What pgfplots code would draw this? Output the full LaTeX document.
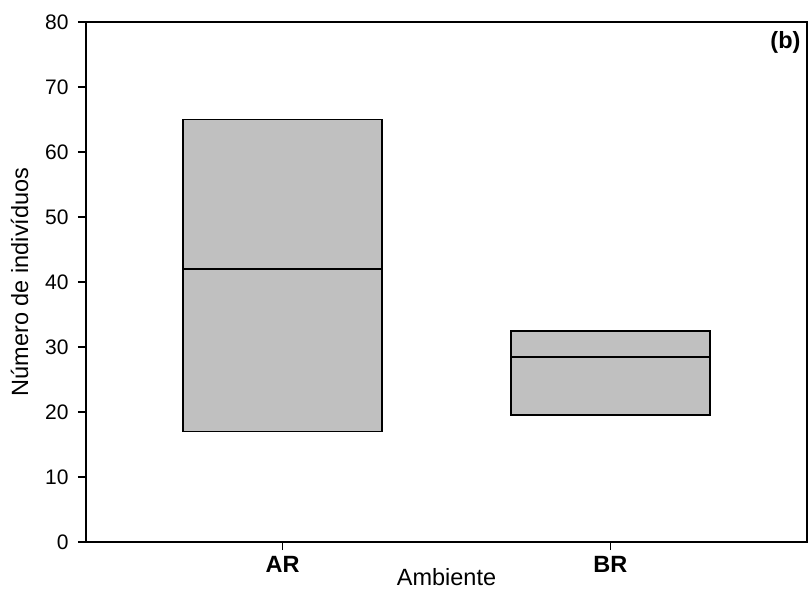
\documentclass[border=0pt]{standalone}
\usepackage{pgfplots}
\pgfplotsset{compat=1.18}
\usepackage{fontspec}
\setmainfont{Liberation Sans}
\definecolor{boxgray}{HTML}{C0C0C0}
\begin{document}
\begin{tikzpicture}
\begin{axis}[
  name=ax,
  scale only axis,
  width=721pt, height=520pt,
  xmin=0.4, xmax=2.6,
  ymin=0, ymax=80,
  ytick={0,10,20,30,40,50,60,70,80},
  xtick={1,2},
  xticklabels={AR,BR},
  tick pos=left,
  tick align=outside,
  major tick length=8pt,
  axis line style={line width=1.6pt, line cap=rect},
  every tick/.style={line width=1.4pt, black},
  /pgf/number format/assume math mode=true,
  yticklabel style={font=\fontsize{21}{25}\selectfont, xshift=-6pt},
  xticklabel style={font=\fontsize{23.5}{28}\selectfont\bfseries, anchor=base, yshift=-22pt},
  ylabel={Número de indivíduos},
  xlabel={Ambiente},
  label style={font=\fontsize{23.5}{28}\selectfont},
  ylabel style={at={(axis description cs:-0.0804,0.5)}, anchor=base},
  xlabel style={at={(axis description cs:0.5,-0.0846)}, anchor=base},
]
% AR: Q1=17, median=42, Q3=65
\addplot[draw=black, fill=boxgray, line width=1.6pt, line join=miter] coordinates {(0.6965,17) (1.3035,17) (1.3035,65) (0.6965,65) (0.6965,17)} -- cycle;
\addplot[draw=black, line width=1.6pt] coordinates {(0.6965,42) (1.3035,42)};
% BR: Q1=19.5, median=28.5, Q3=32.5
\addplot[draw=black, fill=boxgray, line width=1.6pt, line join=miter] coordinates {(1.6965,19.5) (2.3035,19.5) (2.3035,32.5) (1.6965,32.5) (1.6965,19.5)} -- cycle;
\addplot[draw=black, line width=1.6pt] coordinates {(1.6965,28.5) (2.3035,28.5)};
\node[anchor=base east, font=\fontsize{23.5}{28}\selectfont\bfseries] at (rel axis cs:1,1) [xshift=-3pt,yshift=-26pt] {(b)};
\end{axis}
\pgfresetboundingbox
\path[use as bounding box] ([shift={(-86pt,-50pt)}]ax.south west) rectangle ([shift={(723pt,542pt)}]ax.south west);
\end{tikzpicture}
\end{document}
